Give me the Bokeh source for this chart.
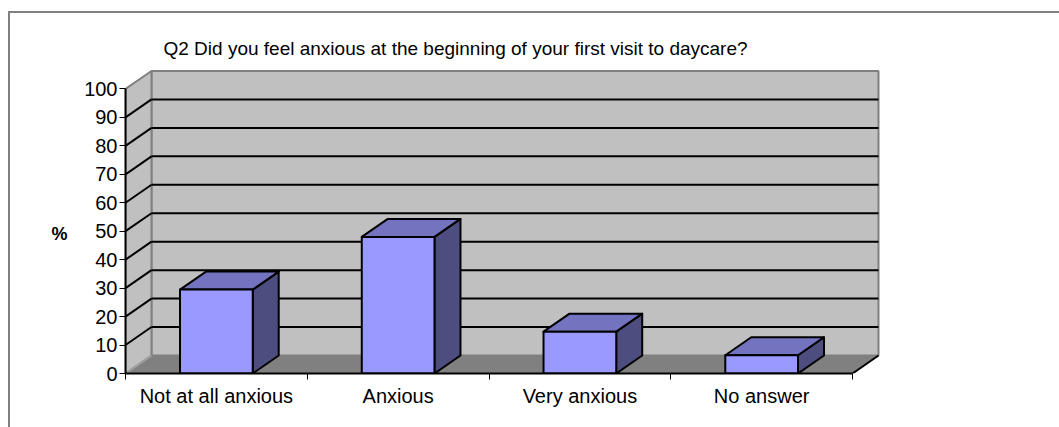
from bokeh.plotting import figure
from bokeh.models import FixedTicker, Range1d, Title, LinearAxis
from bokeh.embed import file_html
from bokeh.resources import INLINE

# ---- data ----
categories = ["Not at all anxious", "Anxious", "Very anxious", "No answer"]
percent = [29.5, 48.0, 14.7, 6.4]
y_ticks = [0, 10, 20, 30, 40, 50, 60, 70, 80, 90, 100]
title_text = "Q2 Did you feel anxious at the beginning of your first visit to daycare?"
y_label = "%"

# ---- style ----
FONT = "Liberation Sans"
DX = 0.143      # depth offset in category units
DY = 6.33       # depth offset in percent units
BAR_W = 0.40
FRONT = "#9999FF"
TOP = "#7373BF"
SIDE = "#4D4D80"
WALL = "#C0C0C0"
FLOOR = "#808080"
EDGE = "#808080"

n = len(categories)
ymax = y_ticks[-1]

p = figure(width=1059, height=427, output_backend="svg", toolbar_location=None,
           x_range=Range1d(0, 4.154), y_range=Range1d(0, 107.2),
           min_border_left=125, min_border_right=179, min_border_top=68,
           min_border_bottom=54)
p.outline_line_color = None
p.xgrid.visible = False
p.ygrid.visible = False
p.background_fill_color = "white"
p.border_fill_color = None
# outer gray picture frame (left and top edges, as in the cropped original)
p.styles = {
    "background-color": "white",
    "background-image": "linear-gradient(#808080,#808080), linear-gradient(#808080,#808080)",
    "background-size": "2px 100%, 100% 2px",
    "background-position": "8px 11px, 8px 11px",
    "background-repeat": "no-repeat",
}

# back wall
p.patch([DX, n + DX, n + DX, DX], [DY, DY, ymax + DY, ymax + DY],
        fill_color=WALL, line_color=EDGE, line_width=2)
# side wall
p.patch([0, DX, DX, 0], [0, DY, ymax + DY, ymax],
        fill_color=WALL, line_color=EDGE, line_width=2)
# floor
p.patch([0, n, n + DX, DX], [0, 0, DY, DY], fill_color=FLOOR, line_color=None)
p.segment(x0=[n], y0=[0], x1=[n + DX], y1=[DY], line_color="black", line_width=2)
p.segment(x0=[0], y0=[0], x1=[DX], y1=[DY], line_color="#A0A0A0", line_width=2)

# gridlines on walls
g = [t for t in y_ticks if 0 < t < ymax]
p.segment(x0=[DX] * len(g), y0=[t + DY for t in g], x1=[n + DX] * len(g),
          y1=[t + DY for t in g], line_color="black", line_width=2)
p.segment(x0=[0] * len(g), y0=g, x1=[DX] * len(g), y1=[t + DY for t in g],
          line_color="black", line_width=2)

# 3D bars
xs_front, ys_front, xs_top, ys_top, xs_side, ys_side = [], [], [], [], [], []
for i, v in enumerate(percent):
    c = i + 0.5
    x0, x1 = c - BAR_W / 2, c + BAR_W / 2
    xs_side.append([x1, x1 + DX, x1 + DX, x1])
    ys_side.append([0, DY, v + DY, v])
    xs_top.append([x0, x1, x1 + DX, x0 + DX])
    ys_top.append([v, v, v + DY, v + DY])
    xs_front.append([x0, x1, x1, x0])
    ys_front.append([0, 0, v, v])
p.patches(xs_side, ys_side, fill_color=SIDE, line_color="black", line_width=2,
          line_join="round")
p.patches(xs_top, ys_top, fill_color=TOP, line_color="black", line_width=2,
          line_join="round")
p.patches(xs_front, ys_front, fill_color=FRONT, line_color="black", line_width=2,
          line_join="round")

# y axis
ya = p.yaxis[0]
ya.bounds = (0, ymax)
ya.ticker = FixedTicker(ticks=y_ticks, minor_ticks=[])
ya.axis_line_width = 2
ya.axis_line_color = "black"
ya.major_tick_out = 6
ya.major_tick_in = 0
ya.major_tick_line_color = "black"
ya.major_label_standoff = 2
ya.major_label_text_font = FONT
ya.major_label_text_font_size = "20px"
ya.major_label_text_color = "black"

# "%" caption as a second, line-less left axis, level with the middle of the scale
cap_pos = 49
ya2 = LinearAxis(ticker=FixedTicker(ticks=[cap_pos], minor_ticks=[]),
                 major_label_overrides={cap_pos: y_label},
                 axis_line_color=None, major_tick_line_color=None,
                 minor_tick_line_color=None, major_tick_out=0, major_tick_in=0,
                 major_label_standoff=14, major_label_text_font=FONT,
                 major_label_text_font_size="18px",
                 major_label_text_font_style="bold",
                 major_label_text_color="black")
p.add_layout(ya2, "left")

# x axis: labels at centres, ticks at category boundaries
xa = p.xaxis[0]
xa.bounds = (0, n)
centres = [i + 0.5 for i in range(n)]
xa.ticker = FixedTicker(ticks=centres, minor_ticks=list(range(n + 1)))
xa.major_label_overrides = {c: lab for c, lab in zip(centres, categories)}
xa.axis_line_width = 2
xa.axis_line_color = "black"
xa.major_tick_line_color = None
xa.major_tick_out = 0
xa.major_tick_in = 0
xa.minor_tick_out = 6
xa.minor_tick_in = 0
xa.minor_tick_line_color = "black"
xa.minor_tick_line_width = 1
xa.major_label_standoff = 5
xa.major_label_text_font = FONT
xa.major_label_text_font_size = "20px"
xa.major_label_text_color = "black"

# title
p.title = Title(text=title_text, align="left", offset=38, standoff=19,
                text_font=FONT, text_font_size="19px", text_font_style="normal",
                text_color="black")

open("out.html", "w").write(file_html(p, INLINE))
